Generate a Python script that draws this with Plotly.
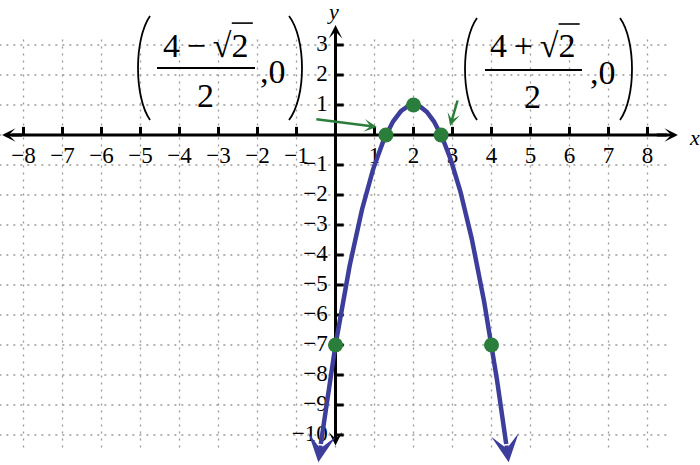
import numpy as np
import plotly.graph_objects as go

# ---------------- data ----------------
X_TICKS = [-8, -7, -6, -5, -4, -3, -2, -1, 1, 2, 3, 4, 5, 6, 7, 8]
Y_TICKS = [-10, -9, -8, -7, -6, -5, -4, -3, -2, -1, 1, 2, 3]
X_TICK_LABELS = [("−" + str(-v)) if v < 0 else str(v) for v in X_TICKS]
Y_TICK_LABELS = [("−" + str(-v)) if v < 0 else str(v) for v in Y_TICKS]
GRID_X = list(range(-8, 9))
GRID_Y = list(range(-10, 4))

# parabola y = a (x - h)^2 + k
PARABOLA_A = -2.0
PARABOLA_H = 2.0
PARABOLA_K = 1.0
CURVE_X_ENDS = [-0.377, 4.377]
CURVE_TIP_X = [-0.44, 4.44]

POINT_X = [0.0, 1.2929, 2.0, 2.7071, 4.0]
POINT_Y = [-7.0, 0.0, 1.0, 0.0, -7.0]

# ---------------- style ----------------
BLUE = "#3d3d9c"
GREEN = "#2b7d3b"
GRID = "#9a9a9a"
SERIF = "Liberation Serif"

X_RANGE = [-8.603, 9.346]
Y_RANGE = [-11.0, 4.5]


def f(x):
    return PARABOLA_A * (np.asarray(x) - PARABOLA_H) ** 2 + PARABOLA_K


fig = go.Figure()

# grid
gx, gy = [], []
for v in GRID_X:
    gx += [v, v, None]
    gy += [-10.42, 3.35, None]
for v in GRID_Y:
    gx += [-8.62, 8.55, None]
    gy += [v, v, None]
fig.add_trace(go.Scatter(x=gx, y=gy, mode="lines",
                         line=dict(color=GRID, width=1.3, dash="2px,5px"),
                         hoverinfo="skip"))

# axes lines
fig.add_trace(go.Scatter(x=[-8.3, 8.5], y=[0, 0], mode="lines",
                         line=dict(color="black", width=3), hoverinfo="skip"))
fig.add_trace(go.Scatter(x=[0, 0], y=[-10.1, 3.4], mode="lines",
                         line=dict(color="black", width=3), hoverinfo="skip"))

# tick marks
tx, ty = [], []
for v in X_TICKS:
    tx += [v, v, None]
    ty += [0, 0.27, None]
for v in Y_TICKS:
    tx += [0, 0.21, None]
    ty += [v, v, None]
fig.add_trace(go.Scatter(x=tx, y=ty, mode="lines",
                         line=dict(color="black", width=3), hoverinfo="skip"))

# tick labels
fig.add_trace(go.Scatter(x=X_TICKS, y=[-0.73] * len(X_TICKS), mode="text",
                         text=X_TICK_LABELS, textposition="middle center",
                         textfont=dict(family=SERIF, size=23, color="black"),
                         hoverinfo="skip"))
fig.add_trace(go.Scatter(x=[-0.2] * len(Y_TICKS), y=Y_TICKS, mode="text",
                         text=Y_TICK_LABELS, textposition="middle left",
                         textfont=dict(family=SERIF, size=23, color="black"),
                         hoverinfo="skip"))

# curve
cx = np.linspace(CURVE_X_ENDS[0], CURVE_X_ENDS[1], 300)
fig.add_trace(go.Scatter(x=cx, y=f(cx), mode="lines",
                         line=dict(color=BLUE, width=4.5), hoverinfo="skip"))

# points
fig.add_trace(go.Scatter(x=POINT_X, y=POINT_Y, mode="markers",
                         marker=dict(color=GREEN, size=15), hoverinfo="skip"))

ann = []


def arrow(x0, y0, x1, y1, color, width, size):
    ann.append(dict(x=x1, y=y1, ax=x0, ay=y0, xref="x", yref="y",
                    axref="x", ayref="y", text="", showarrow=True,
                    arrowhead=3, arrowsize=size, arrowwidth=width,
                    arrowcolor=color, standoff=0, startstandoff=0))


# axis arrowheads
arrow(8.2, 0, 8.78, 0, "black", 3, 0.75)
arrow(-8.0, 0, -8.55, 0, "black", 3, 0.75)
arrow(0, 3.0, 0, 3.67, "black", 3, 0.75)
arrow(0, -9.8, 0, -10.35, "black", 3, 0.75)

# curve arrowheads
for xe, xt in zip(CURVE_X_ENDS, CURVE_TIP_X):
    arrow(xe, float(f(xe)), xt, float(f(xt)), BLUE, 4, 1.15)

# green pointer arrows
arrow(-0.53, 0.53, 1.06, 0.27, GREEN, 2.5, 0.85)
arrow(3.14, 1.2, 2.94, 0.3, GREEN, 2.5, 0.85)

# axis titles
ann.append(dict(x=-0.06, y=4.13, xref="x", yref="y", text="<i>y</i>",
                showarrow=False, font=dict(family=SERIF, size=22, color="black")))
ann.append(dict(x=9.21, y=-0.07, xref="x", yref="y", text="<i>x</i>",
                showarrow=False, font=dict(family=SERIF, size=22, color="black")))

MF = dict(family=SERIF, size=34, color="black")
TS = "\u2009"
# left label (4 - sqrt2)/2 , 0
ann.append(dict(x=-3.346, y=3.0, xref="x", yref="y", text="4" + TS + "−" + TS + "√2",
                showarrow=False, font=MF))
ann.append(dict(x=-3.346, y=1.33, xref="x", yref="y", text="2", showarrow=False, font=MF))
ann.append(dict(x=-1.615, y=2.13, xref="x", yref="y", text=",0", showarrow=False, font=MF))
# right label (4 + sqrt2)/2 , 0
ann.append(dict(x=5.04, y=2.97, xref="x", yref="y", text="4" + TS + "+" + TS + "√2",
                showarrow=False, font=MF))
ann.append(dict(x=5.06, y=1.27, xref="x", yref="y", text="2", showarrow=False, font=MF))
ann.append(dict(x=6.85, y=2.10, xref="x", yref="y", text=",0", showarrow=False, font=MF))

shapes = []


def paren(x_end, x_ctrl, y_top, y_bot):
    h = y_top - y_bot
    path = (f"M {x_end},{y_top} C {x_ctrl},{y_top - 0.22 * h} "
            f"{x_ctrl},{y_bot + 0.22 * h} {x_end},{y_bot}")
    shapes.append(dict(type="path", path=path, xref="x", yref="y",
                       line=dict(color="black", width=1.8)))


paren(-4.756, -5.167, 3.967, 0.5)
paren(-1.192, -0.748, 3.967, 0.5)
paren(3.628, 3.218, 3.9, 0.5)
paren(7.295, 7.705, 3.9, 0.5)

# fraction bars
shapes.append(dict(type="line", x0=-4.577, x1=-2.064, y0=2.233, y1=2.233,
                   xref="x", yref="y", line=dict(color="black", width=1.8)))
shapes.append(dict(type="line", x0=3.833, x1=6.321, y0=2.167, y1=2.167,
                   xref="x", yref="y", line=dict(color="black", width=1.8)))
# radical vinculum
shapes.append(dict(type="line", x0=-2.66, x1=-2.12, y0=3.73, y1=3.73,
                   xref="x", yref="y", line=dict(color="black", width=1.6)))
shapes.append(dict(type="line", x0=5.72, x1=6.26, y0=3.70, y1=3.70,
                   xref="x", yref="y", line=dict(color="black", width=1.6)))

fig.update_layout(
    width=700, height=465, autosize=False,
    margin=dict(l=0, r=0, t=0, b=0),
    paper_bgcolor="white", plot_bgcolor="white",
    showlegend=False,
    xaxis=dict(range=X_RANGE, visible=False, fixedrange=True),
    yaxis=dict(range=Y_RANGE, visible=False, fixedrange=True),
    annotations=ann, shapes=shapes,
)

fig.write_html("out.html", config={"displayModeBar": False},
               post_script="document.body.style.margin='0';document.body.style.padding='0';")
